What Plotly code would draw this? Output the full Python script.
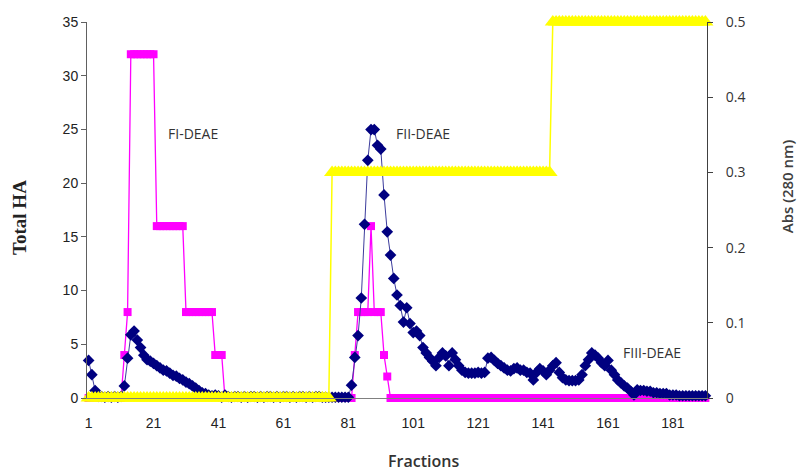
import plotly.graph_objects as go

# Fraction numbers (category axis)
fractions = list(range(1, 192))

# Total HA (left axis)
total_ha = [
    0, 0, 0, 0, 0, 0, 0, 0, 0, 0,
    0, 4, 8, 32, 32, 32, 32, 32, 32, 32,
    32, 16, 16, 16, 16, 16, 16, 16, 16, 16,
    8, 8, 8, 8, 8, 8, 8, 8, 8, 4,
    4, 4, 0, 0, 0, 0, 0, 0, 0, 0,
    0, 0, 0, 0, 0, 0, 0, 0, 0, 0,
    0, 0, 0, 0, 0, 0, 0, 0, 0, 0,
    0, 0, 0, 0, 0, 0, 0, 0, 0, 0,
    0, 0, 4, 8, 8, 8, 8, 16, 8, 8,
    8, 4, 2, 0, 0, 0, 0, 0, 0, 0,
    0, 0, 0, 0, 0, 0, 0, 0, 0, 0,
    0, 0, 0, 0, 0, 0, 0, 0, 0, 0,
    0, 0, 0, 0, 0, 0, 0, 0, 0, 0,
    0, 0, 0, 0, 0, 0, 0, 0, 0, 0,
    0, 0, 0, 0, 0, 0, 0, 0, 0, 0,
    0, 0, 0, 0, 0, 0, 0, 0, 0, 0,
    0, 0, 0, 0, 0, 0, 0, 0, 0, 0,
    0, 0, 0, 0, 0, 0, 0, 0, 0, 0,
    0, 0, 0, 0, 0, 0, 0, 0, 0, 0,
    0,
]

# Absorbance at 280 nm (right axis)
abs_280 = [
    0.050, 0.031, 0.010, 0.002, 0.002, 0.001, 0.002, 0.001, 0.002, 0.001,
    0.002, 0.016, 0.053, 0.084, 0.089, 0.077, 0.067, 0.057, 0.051, 0.049,
    0.046, 0.043, 0.040, 0.037, 0.036, 0.033, 0.030, 0.029, 0.026, 0.024,
    0.021, 0.019, 0.016, 0.013, 0.010, 0.007, 0.006, 0.004, 0.003, 0.004,
    0.003, 0.001, 0.004, 0.002, 0.001, 0.002, 0.002, 0.001, 0.002, 0.001,
    0.002, 0.002, 0.001, 0.002, 0.001, 0.002, 0.002, 0.001, 0.002, 0.001,
    0.002, 0.002, 0.001, 0.002, 0.001, 0.002, 0.002, 0.001, 0.002, 0.001,
    0.002, 0.002, 0.001, 0.001, 0.001, 0.001, 0.001, 0.001, 0.001, 0.001,
    0.001, 0.017, 0.054, 0.083, 0.133, 0.231, 0.316, 0.357, 0.357, 0.336,
    0.331, 0.270, 0.221, 0.190, 0.159, 0.137, 0.123, 0.101, 0.120, 0.099,
    0.087, 0.089, 0.083, 0.067, 0.060, 0.054, 0.049, 0.043, 0.054, 0.060,
    0.056, 0.043, 0.060, 0.051, 0.043, 0.037, 0.034, 0.033, 0.033, 0.033,
    0.034, 0.033, 0.034, 0.053, 0.054, 0.050, 0.046, 0.043, 0.040, 0.037,
    0.036, 0.039, 0.040, 0.037, 0.037, 0.034, 0.033, 0.024, 0.034, 0.039,
    0.036, 0.031, 0.037, 0.043, 0.047, 0.034, 0.027, 0.024, 0.023, 0.023,
    0.023, 0.024, 0.031, 0.043, 0.051, 0.060, 0.057, 0.053, 0.047, 0.043,
    0.050, 0.037, 0.031, 0.024, 0.020, 0.016, 0.013, 0.009, 0.004, 0.011,
    0.010, 0.010, 0.009, 0.009, 0.007, 0.007, 0.006, 0.006, 0.006, 0.004,
    0.004, 0.004, 0.003, 0.003, 0.003, 0.003, 0.003, 0.003, 0.003, 0.003,
    0.003,
]

# Salt step gradient (right axis)
gradient = [
    0, 0, 0, 0, 0, 0, 0, 0, 0, 0,
    0, 0, 0, 0, 0, 0, 0, 0, 0, 0,
    0, 0, 0, 0, 0, 0, 0, 0, 0, 0,
    0, 0, 0, 0, 0, 0, 0, 0, 0, 0,
    0, 0, 0, 0, 0, 0, 0, 0, 0, 0,
    0, 0, 0, 0, 0, 0, 0, 0, 0, 0,
    0, 0, 0, 0, 0, 0, 0, 0, 0, 0,
    0, 0, 0, 0, 0, 0.3, 0.3, 0.3, 0.3, 0.3,
    0.3, 0.3, 0.3, 0.3, 0.3, 0.3, 0.3, 0.3, 0.3, 0.3,
    0.3, 0.3, 0.3, 0.3, 0.3, 0.3, 0.3, 0.3, 0.3, 0.3,
    0.3, 0.3, 0.3, 0.3, 0.3, 0.3, 0.3, 0.3, 0.3, 0.3,
    0.3, 0.3, 0.3, 0.3, 0.3, 0.3, 0.3, 0.3, 0.3, 0.3,
    0.3, 0.3, 0.3, 0.3, 0.3, 0.3, 0.3, 0.3, 0.3, 0.3,
    0.3, 0.3, 0.3, 0.3, 0.3, 0.3, 0.3, 0.3, 0.3, 0.3,
    0.3, 0.3, 0.3, 0.5, 0.5, 0.5, 0.5, 0.5, 0.5, 0.5,
    0.5, 0.5, 0.5, 0.5, 0.5, 0.5, 0.5, 0.5, 0.5, 0.5,
    0.5, 0.5, 0.5, 0.5, 0.5, 0.5, 0.5, 0.5, 0.5, 0.5,
    0.5, 0.5, 0.5, 0.5, 0.5, 0.5, 0.5, 0.5, 0.5, 0.5,
    0.5, 0.5, 0.5, 0.5, 0.5, 0.5, 0.5, 0.5, 0.5, 0.5,
    0.5,
]

x_tick_vals = [1, 21, 41, 61, 81, 101, 121, 141, 161, 181]
left_ticks = [0, 5, 10, 15, 20, 25, 30, 35]
right_ticks = [0, 0.1, 0.2, 0.3, 0.4, 0.5]
right_tick_text = ["0", "0.1", "0.2", "0.3", "0.4", "0.5"]

peak_labels = ["FI-DEAE", "FII-DEAE", "FIII-DEAE"]
peak_x = [33.2, 103.9, 174.6]
peak_y = [24.6, 24.6, 4.2]

fig = go.Figure()

fig.add_trace(go.Scatter(
    x=fractions, y=total_ha, mode="lines+markers", yaxis="y",
    line=dict(color="#FF00FF", width=1.3),
    marker=dict(symbol="square", size=8, color="#FF00FF"),
    cliponaxis=False, showlegend=False, hoverinfo="skip",
))
fig.add_trace(go.Scatter(
    x=fractions, y=abs_280, mode="lines+markers", yaxis="y2",
    line=dict(color="#3C3C9C", width=1),
    marker=dict(symbol="diamond", size=9, color="#000080"),
    cliponaxis=False, showlegend=False, hoverinfo="skip",
))
fig.add_trace(go.Scatter(
    x=fractions, y=gradient, mode="lines+markers", yaxis="y2",
    line=dict(color="#FFFF00", width=1.5),
    marker=dict(symbol="triangle-up", size=14, color="#FFFF00"),
    cliponaxis=False, showlegend=False, hoverinfo="skip",
))

tick_font = dict(family="Liberation Sans, Arial, sans-serif", size=14, color="#222222")
right_font = dict(family="Open Sans, sans-serif", size=14, color="#333333")

fig.update_layout(
    width=797, height=474,
    margin=dict(l=87, r=90, t=16, b=76),
    paper_bgcolor="white", plot_bgcolor="white",
    hovermode=False,
    xaxis=dict(
        range=[0.5, 191.5], tickmode="array", tickvals=x_tick_vals,
        showgrid=False, zeroline=False, showline=True, linecolor="#808080",
        ticks="", tickfont=tick_font, ticklabelstandoff=12,
    ),
    yaxis=dict(
        range=[0, 35], tickmode="array", tickvals=left_ticks,
        showgrid=False, zeroline=False, showline=True, linecolor="#606060",
        linewidth=1, ticks="outside", ticklen=5, tickcolor="#606060",
        tickfont=tick_font,
    ),
    yaxis2=dict(
        range=[0, 0.5], overlaying="y", side="right", tickmode="array",
        tickvals=right_ticks, ticktext=right_tick_text,
        showgrid=False, zeroline=False, showline=True, linecolor="#404040",
        linewidth=1, ticks="outside", ticklen=5, tickcolor="#404040",
        tickfont=right_font, ticklabelstandoff=10,
    ),
)

annotations = []
for t, xv, yv in zip(peak_labels, peak_x, peak_y):
    annotations.append(dict(
        x=xv, y=yv, xref="x", yref="y", text=t, showarrow=False,
        font=dict(family="Open Sans, sans-serif", size=14, color="#333333"),
        xanchor="center", yanchor="middle",
    ))
annotations.append(dict(
    x=-0.108, y=0.479, xref="paper", yref="paper", text="<b>Total HA</b>",
    textangle=-90, showarrow=False, xanchor="center", yanchor="middle",
    font=dict(family="Liberation Serif, Times New Roman, serif", size=19, color="#222222"),
))
annotations.append(dict(
    x=1.129, y=0.563, xref="paper", yref="paper", text="Abs (280 nm)",
    textangle=-90, showarrow=False, xanchor="center", yanchor="middle",
    font=dict(family="Open Sans, sans-serif", size=15, color="#404040", weight=600),
))
annotations.append(dict(
    x=0.542, y=-0.1675, xref="paper", yref="paper", text="Fractions",
    showarrow=False, xanchor="center", yanchor="middle",
    font=dict(family="Open Sans, sans-serif", size=16, color="#333333", weight=600),
))
fig.update_layout(annotations=annotations)

fig.write_html(
    "out.html",
    config={"displayModeBar": False},
    post_script="document.body.style.margin='0';document.body.style.padding='0';",
)
